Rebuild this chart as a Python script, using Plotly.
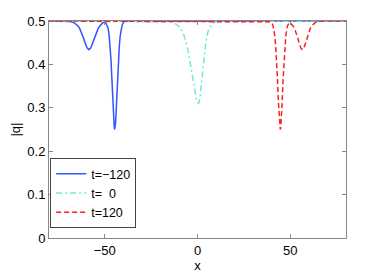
import plotly.graph_objects as go

# t = -120 (solid blue)
x_m120 = [-80, -70, -68.5, -66.5, -64.5, -63.5, -62.5, -61.5, -60.5, -59.5, -58.5, -57.5, -56.5,
          -55.5, -54.5, -53.5, -52.5, -51, -49.6, -48.6, -48.1, -47.6, -47.1, -46.6, -46.1, -45.6,
          -45.1, -44.85, -44.6, -44.35, -44.1, -43.6, -43.1, -42.6, -42.1, -41.6, -41.1, -40.6,
          -39.6, -38.6, 80]
y_m120 = [0.5, 0.4998, 0.4986, 0.496, 0.489, 0.483, 0.474, 0.462, 0.449, 0.438, 0.434, 0.438, 0.449,
          0.462, 0.474, 0.483, 0.489, 0.496, 0.4985, 0.490, 0.482, 0.467, 0.444, 0.410, 0.365, 0.312,
          0.268, 0.255, 0.250, 0.255, 0.268, 0.312, 0.365, 0.410, 0.444, 0.467, 0.482, 0.491,
          0.498, 0.4995, 0.5]

# t = 0 (dash-dot cyan)
x_0 = [-80, -14.5, -11.5, -9.5, -7.5, -5.5, -4.5, -3.5, -2.5, -1.5, -0.5, 0, 0.5, 1, 1.5, 2.5,
       3.5, 4.5, 5.5, 6.5, 8.5, 10.5, 80]
y_0 = [0.5, 0.498, 0.493, 0.4855, 0.470, 0.440, 0.418, 0.391, 0.363, 0.336, 0.317, 0.312, 0.31,
       0.315, 0.329, 0.372, 0.417, 0.451, 0.473, 0.485, 0.496, 0.499, 0.5]

# t = 120 (dashed red)
x_120 = [-80, 38.6, 39.6, 40.6, 41.1, 41.6, 42.1, 42.6, 43.1, 43.6, 44.1, 44.35, 44.6, 44.85, 45.1,
         45.6, 46.1, 46.6, 47.1, 47.6, 48.1, 48.6, 49.6, 50.5, 51.4, 52.25, 53.1, 53.95, 54.8,
         55.65, 56.5, 57.35, 58.2, 59.05, 59.9, 60.75, 61.6, 63.3, 65, 67, 80]
y_120 = [0.5, 0.4995, 0.498, 0.491, 0.482, 0.467, 0.444, 0.410, 0.365, 0.312, 0.268, 0.255, 0.250,
         0.255, 0.268, 0.312, 0.365, 0.410, 0.444, 0.467, 0.482, 0.490, 0.4965, 0.4935, 0.489,
         0.483, 0.474, 0.462, 0.449, 0.438, 0.434, 0.438, 0.449, 0.462, 0.474, 0.483, 0.489,
         0.496, 0.4986, 0.4997, 0.5]

labels = ["t=\u2212120", "t=\u00a0\u00a00", "t=120"]
x_ticks = [-50, 0, 50]
x_tick_text = ["\u221250", "0", "50"]
y_ticks = [0, 0.1, 0.2, 0.3, 0.4, 0.5]
y_tick_text = ["0", "0.1", "0.2", "0.3", "0.4", "0.5"]

fig = go.Figure()
fig.add_trace(go.Scatter(x=x_m120, y=y_m120, mode="lines", name=labels[0],
                         line=dict(color="rgb(50,85,255)", width=1.5)))
fig.add_trace(go.Scatter(x=x_0, y=y_0, mode="lines", name=labels[1],
                         line=dict(color="rgb(110,235,215)", width=1.5, dash="6px,3px,2px,3px")))
fig.add_trace(go.Scatter(x=x_120, y=y_120, mode="lines", name=labels[2],
                         line=dict(color="rgb(255,30,30)", width=1.5, dash="5px,3px")))

axis_common = dict(showgrid=False, zeroline=False, showline=True, linecolor="#888888",
                   linewidth=1, mirror="allticks", ticks="inside", ticklen=4,
                   tickcolor="#888888", tickfont=dict(size=13, color="black"),
                   automargin=False)

fig.update_layout(
    width=374, height=265,
    margin=dict(l=41, r=36, t=13, b=35),
    paper_bgcolor="white", plot_bgcolor="white",
    font=dict(family="Liberation Sans, Arial, sans-serif", size=13, color="black"),
    xaxis=dict(range=[-80, 80], tickvals=x_ticks, ticktext=x_tick_text,
               title=dict(text="x", standoff=2, font=dict(size=13)), **axis_common),
    yaxis=dict(range=[0, 0.5], tickvals=y_ticks, ticktext=y_tick_text,
               title=dict(text="|q|", standoff=6, font=dict(size=13)), **axis_common),
    legend=dict(x=0.004, y=0.046, xanchor="left", yanchor="bottom",
                bgcolor="white", bordercolor="#444444", borderwidth=1,
                font=dict(size=12.5), itemwidth=30, tracegroupgap=0),
    showlegend=True,
)

fig.write_html("out.html")
